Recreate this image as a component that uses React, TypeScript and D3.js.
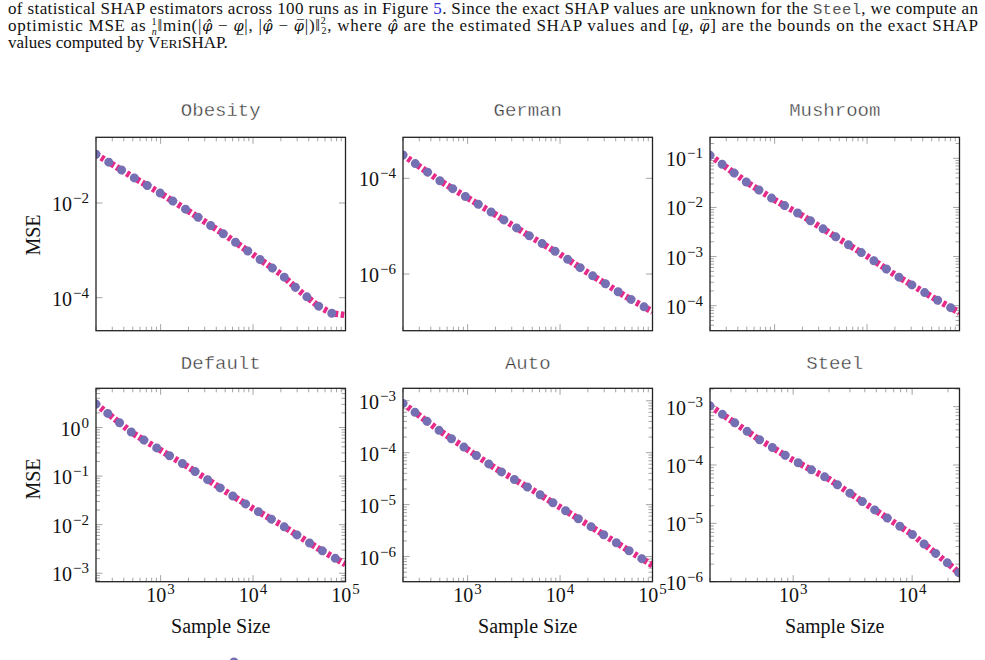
import React from "react";
import * as d3 from "d3";

const PURPLE = "#7570b3";
const PINK = "#e7298a";
const TICK = "#9a9a9a";

// sample sizes (x) for each dataset
const sizes = [200, 500, 1000, 2000, 5000, 10000, 20000, 50000, 100000];
const sizesObesity = [200, 500, 1000, 2000, 5000, 10000, 20000, 30000, 50000, 70000, 100000];
const sizesSteel = [200, 500, 1000, 2000, 5000, 10000, 20000, 25000];

// MSE per dataset (both estimators coincide at this scale)
const obesityMse = [0.107, 0.0354, 0.016, 0.00678, 0.00211, 8.1e-4, 3.16e-4, 1.53e-4, 6.8e-5, 4.7e-5, 4.3e-5];
const germanMse = [3.07e-4, 8.9e-5, 3.9e-5, 1.74e-5, 5.74e-6, 2.58e-6, 1.06e-6, 3.5e-7, 1.63e-7];
const mushroomMse = [0.115, 0.0324, 0.0142, 0.00678, 0.00227, 0.00102, 4.27e-4, 1.52e-4, 7.18e-5];
const defaultMse = [3.03, 0.762, 0.339, 0.153, 0.0488, 0.0214, 0.01, 0.00329, 0.00153];
const autoMse = [8.9e-4, 2.63e-4, 1.15e-4, 4.98e-5, 1.93e-5, 8.9e-6, 4.11e-6, 1.46e-6, 6.8e-7];
const steelMse = [1.03e-3, 2.86e-4, 1.21e-4, 5.72e-5, 1.63e-5, 6.48e-6, 2.06e-6, 1.39e-6];

// y tick exponents per dataset
const obesityTicks = [-2, -4];
const germanTicks = [-4, -6];
const mushroomTicks = [-1, -2, -3, -4];
const defaultTicks = [0, -1, -2, -3];
const autoTicks = [-3, -4, -5, -6];
const steelTicks = [-3, -4, -5, -6];
const xTickExps = [3, 4, 5];

const COLS = [96, 403, 710];
const ROWS = [137.3, 388.3];
const W = 249.5;
const H = 193.4;

const panels = [
  { name: "Obesity", xs: sizesObesity, ys: obesityMse, xMax: 1e5, yLog: [-4.697, -0.612], yTicks: obesityTicks, minorY: false, col: 0, row: 0 },
  { name: "German", xs: sizes, ys: germanMse, xMax: 1e5, yLog: [-7.185, -3.143], yTicks: germanTicks, minorY: false, col: 1, row: 0 },
  { name: "Mushroom", xs: sizes, ys: mushroomMse, xMax: 1e5, yLog: [-4.509, -0.572], yTicks: mushroomTicks, minorY: true, col: 2, row: 0 },
  { name: "Default", xs: sizes, ys: defaultMse, xMax: 1e5, yLog: [-3.174, 0.807], yTicks: defaultTicks, minorY: true, col: 0, row: 1 },
  { name: "Auto", xs: sizes, ys: autoMse, xMax: 1e5, yLog: [-6.484, -2.76], yTicks: autoTicks, minorY: true, col: 1, row: 1 },
  { name: "Steel", xs: sizesSteel, ys: steelMse, xMax: 25000, yLog: [-6.0, -2.686], yTicks: steelTicks, minorY: true, col: 2, row: 1 },
];

const serif = "'Liberation Serif', 'Times New Roman', serif";
const mono = "'Liberation Mono', 'Courier New', monospace";
const mathFont = "'DejaVu Serif', serif";

function Pow({ e, x, y, anchor }) {
  const s = e < 0 ? "\u2212" + Math.abs(e) : String(e);
  return (
    <text x={x} y={y} textAnchor={anchor} fontFamily={serif} fontSize={20} fill="#111">
      10<tspan dx={1} dy={-8} fontSize={15}>{s}</tspan>
    </text>
  );
}

function Panel({ p }) {
  const left = COLS[p.col];
  const top = ROWS[p.row];
  const x = d3.scaleLog().domain([200, p.xMax]).range([0, W]);
  const y = d3.scaleLog().domain([10 ** p.yLog[0], 10 ** p.yLog[1]]).range([H, 0]);
  const inX = (v) => v >= 200 * 0.999 && v <= p.xMax * 1.001;
  const inY = (v) => Math.log10(v) >= p.yLog[0] - 1e-6 && Math.log10(v) <= p.yLog[1] + 1e-6;

  const xMajor = xTickExps.map((e) => 10 ** e).filter(inX);
  const xMinor = [];
  for (let k = 2; k <= 4; k++) for (let m = 2; m <= 9; m++) if (inX(m * 10 ** k)) xMinor.push(m * 10 ** k);
  const yMajor = p.yTicks.map((e) => 10 ** e);
  const yMinor = [];
  if (p.minorY) {
    for (let k = Math.floor(p.yLog[0]); k <= Math.ceil(p.yLog[1]); k++)
      for (let m = 2; m <= 9; m++) if (inY(m * 10 ** k)) yMinor.push(m * 10 ** k);
  }

  const line = d3
    .line<number>()
    .x((_, i) => x(p.xs[i]))
    .y((d) => y(d));
  const path = line(p.ys);
  const clipId = `clip-${p.name}`;
  const MAJ = 6.5;
  const MIN = 4;

  return (
    <g transform={`translate(${left},${top})`}>
      <defs>
        <clipPath id={clipId}>
          <rect x={0} y={0} width={W} height={H} />
        </clipPath>
      </defs>
      <text
        x={W / 2}
        y={p.row === 0 ? -21 : -19}
        textAnchor="middle"
        fontFamily={mono}
        fontSize={19}
        fill="#3a3a3a"
        stroke="#fff"
        strokeWidth={0.35}
        style={{ paintOrder: "fill" }}
      >
        {p.name}
      </text>
      <g stroke={TICK} strokeWidth={0.9}>
        {xMinor.map((v) => (
          <g key={"xm" + v}>
            <line x1={x(v)} x2={x(v)} y1={0} y2={MIN} />
            <line x1={x(v)} x2={x(v)} y1={H} y2={H - MIN} />
          </g>
        ))}
        {xMajor.map((v) => (
          <g key={"xM" + v}>
            <line x1={x(v)} x2={x(v)} y1={0} y2={MAJ} />
            <line x1={x(v)} x2={x(v)} y1={H} y2={H - MAJ} />
          </g>
        ))}
        {yMinor.map((v) => (
          <g key={"ym" + v}>
            <line x1={0} x2={MIN} y1={y(v)} y2={y(v)} />
            <line x1={W} x2={W - MIN} y1={y(v)} y2={y(v)} />
          </g>
        ))}
        {yMajor.map((v) => (
          <g key={"yM" + v}>
            <line x1={0} x2={MAJ} y1={y(v)} y2={y(v)} />
            <line x1={W} x2={W - MAJ} y1={y(v)} y2={y(v)} />
          </g>
        ))}
      </g>
      <g clipPath={`url(#${clipId})`}>
        <path d={path} fill="none" stroke={PINK} strokeWidth={6.5} strokeDasharray="3.5 2.5" />
        <path d={path} fill="none" stroke={PURPLE} strokeWidth={9} strokeLinecap="round" strokeDasharray="0 15" />
      </g>
      <rect x={0} y={0} width={W} height={H} fill="none" stroke="#222" strokeWidth={1.3} />
      {p.yTicks.map((e) => (
        <Pow key={"yl" + e} e={e} x={-7} y={y(10 ** e) + 8} anchor="end" />
      ))}
      {p.row === 1 &&
        xTickExps
          .filter((e) => inX(10 ** e))
          .map((e) => <Pow key={"xl" + e} e={e} x={x(10 ** e)} y={H + 20} anchor="middle" />)}
      {p.row === 1 && (
        <text x={W / 2} y={H + 51} textAnchor="middle" fontFamily={serif} fontSize={20} fill="#111">
          Sample Size
        </text>
      )}
      {p.col === 0 && (
        <text
          transform={`translate(${40 - left},${p.row === 0 ? H / 2 + 1 : H / 2 - 6}) rotate(-90)`}
          textAnchor="middle"
          fontFamily={serif}
          fontSize={20}
          fill="#111"
        >
          MSE
        </text>
      )}
    </g>
  );
}

export default function App() {
  return (
    <svg
      width={985}
      height={660}
      viewBox="0 0 985 660"
      style={{ position: "absolute", left: 0, top: 0, background: "#fff", display: "block" }}
    >
      <g fontFamily={serif} fontSize={17} fill="#111">
        <text x={8} y={14} textLength={970} lengthAdjust="spacing">
          of statistical SHAP estimators across 100 runs as in Figure <tspan fill="#2b2bd6">5</tspan>. Since the exact SHAP values are unknown for the{" "}
          <tspan fontFamily={mono} fill="#555" fontSize={15.5}>Steel</tspan>, we compute an
        </text>
        <text x={8} y={31} textLength={970} lengthAdjust="spacing">
          optimistic MSE as <tspan fontSize={10} dy={-6}>1</tspan>
          <tspan fontSize={10} fontStyle="italic" dx={-5.5} dy={10}>n</tspan>
          <tspan dy={-4}>‖min(|</tspan>
          <tspan fontFamily={mathFont} fontStyle="italic" fontSize={14.5}>φ̂</tspan> − <tspan fontFamily={mathFont} fontStyle="italic" fontSize={14.5}>φ̲</tspan>|, |
          <tspan fontFamily={mathFont} fontStyle="italic" fontSize={14.5}>φ̂</tspan> −{" "}
          <tspan fontFamily={mathFont} fontStyle="italic" fontSize={14.5}>φ̅</tspan>|)‖<tspan fontSize={10} dy={-7}>2</tspan>
          <tspan fontSize={10} dx={-5} dy={10}>2</tspan>
          <tspan dy={-3}>, where </tspan>
          <tspan fontFamily={mathFont} fontStyle="italic" fontSize={14.5}>φ̂</tspan> are the estimated SHAP values and [
          <tspan fontFamily={mathFont} fontStyle="italic" fontSize={14.5}>φ̲</tspan>,{" "}
          <tspan fontFamily={mathFont} fontStyle="italic" fontSize={14.5}>φ̅</tspan>] are the bounds on the exact SHAP
        </text>
        <text x={8} y={48}>
          values computed by V<tspan fontSize={13.5}>ERI</tspan>SHAP.
        </text>
      </g>
      {panels.map((p) => (
        <Panel key={p.name} p={p} />
      ))}
      {/* legend row, mostly below the visible area */}
      <circle cx={234} cy={662} r={4.5} fill={PURPLE} />
      <line x1={398} x2={412} y1={663} y2={663} stroke={PINK} strokeWidth={6} strokeDasharray="3.5 2.5" />
    </svg>
  );
}
